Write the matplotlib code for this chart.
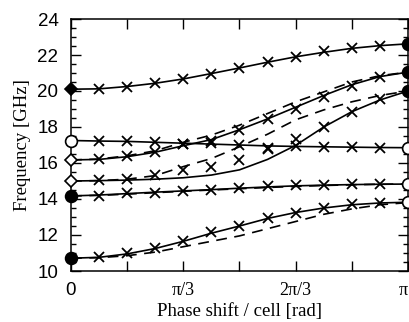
import numpy as np
import matplotlib
matplotlib.use('Agg')
import matplotlib.pyplot as plt
from matplotlib.ticker import MultipleLocator, FixedLocator

# phase samples in steps of pi/12
STEPS = list(range(13))

# simulated bands (solid)
BAND1 = [20.1, 20.12, 20.25, 20.43, 20.67, 20.97, 21.28, 21.6, 21.9, 22.15, 22.37, 22.52, 22.62]
BAND2 = [17.25, 17.22, 17.2, 17.15, 17.1, 17.05, 17.0, 16.95, 16.92, 16.9, 16.88, 16.86, 16.85]
BAND3 = [16.17, 16.2, 16.35, 16.6, 16.96, 17.3, 17.85, 18.45, 19.1, 19.75, 20.35, 20.8, 21.05]
BAND4 = [15.0, 15.02, 15.05, 15.1, 15.18, 15.33, 15.62, 16.2, 16.98, 18.0, 18.85, 19.5, 20.0]
BAND5 = [14.17, 14.22, 14.3, 14.38, 14.45, 14.52, 14.6, 14.67, 14.73, 14.77, 14.8, 14.82, 14.83]
BAND6 = [10.71, 10.76, 10.95, 11.25, 11.65, 12.1, 12.5, 12.92, 13.25, 13.5, 13.68, 13.78, 13.82]

# second model (dashed)
DASH3 = [16.17, 16.22, 16.4, 16.68, 17.15, 17.55, 18.1, 18.75, 19.4, 19.95, 20.5, 20.85, 21.05]
DASH4 = [15.0, 15.02, 15.1, 15.3, 15.8, 16.25, 16.9, 17.6, 18.4, 18.95, 19.4, 19.75, 20.0]
DASH5 = [14.17, 14.2, 14.27, 14.35, 14.43, 14.5, 14.57, 14.64, 14.7, 14.75, 14.79, 14.82, 14.83]
DASH6 = [10.71, 10.74, 10.85, 11.05, 11.35, 11.65, 11.95, 12.35, 12.75, 13.15, 13.45, 13.68, 13.8]

# measured points (crosses), steps 1..11
CROSS1 = [20.12, 20.25, 20.43, 20.67, 20.97, 21.28, 21.6, 21.9, 22.2, 22.4, 22.52]
CROSS2 = [17.22, 17.2, 17.15, 17.08, 17.1, 16.98, 16.85, 16.92, 16.9, 16.88, 16.86]
CROSS3 = [16.2, 16.38, 16.63, 17.05, 17.2, 17.83, 18.45, 19.0, 19.68, 20.3, 20.8]
CROSS4 = [15.05, 15.1, 15.33, 15.6, 15.76, 16.17, 16.8, 17.35, 18.02, 18.85, 19.55]
CROSS5 = [14.17, 14.32, 14.35, 14.46, 14.5, 14.6, 14.72, 14.78, 14.8, 14.82, 14.82]
CROSS6 = [10.76, 10.98, 11.26, 11.67, 12.15, 12.52, 12.93, 13.25, 13.5, 13.71, 13.8]

# end-point markers: (band, marker, filled)
START_MARK = [(BAND1, 'D', True), (BAND2, 'o', False), (BAND3, 'D', False),
              (BAND4, 'D', False), (BAND5, 'o', True), (BAND6, 'o', True)]
END_MARK = [(BAND1, 'o', True), (BAND2, 'o', False), (BAND3, 'o', True),
            (BAND4, 'o', True), (BAND5, 'o', False), (BAND6, 'o', False)]

x = np.array(STEPS) * np.pi / 12
xc = x[1:-1]

fig = plt.figure(figsize=(4.10, 3.22), dpi=100)
ax = fig.add_axes([71/410, 1 - 271/322, 337/410, 252/322])

for b in [BAND1, BAND2, BAND3, BAND4, BAND5, BAND6]:
    ax.plot(x, b, color='black', lw=1.2, solid_capstyle='round')
for d in [DASH3, DASH4, DASH5, DASH6]:
    ax.plot(x, d, color='black', lw=1.2, dashes=(6.5, 4.5))
for c in [CROSS1, CROSS2, CROSS3, CROSS4, CROSS5, CROSS6]:
    ax.plot(xc, c, ls='none', marker='x', ms=7, mew=1.3, color='black')

for b, m, f in START_MARK:
    ax.plot(x[0], b[0], marker=m, ms=6.5 if m == 'D' else 8.5, mew=1.2,
            mfc='black' if f else 'white', mec='black', clip_on=False, zorder=5)
for b, m, f in END_MARK:
    ax.plot(x[-1], b[-1], marker=m, ms=8.5, mew=1.2,
            mfc='black' if f else 'white', mec='black', clip_on=False, zorder=5)

ax.set_xlim(0, np.pi)
ax.set_ylim(10, 24)

ax.xaxis.set_major_locator(FixedLocator(x[::2]))
ax.set_xticklabels(['0', '', 'π/3', '', '2π/3', '', 'π'])
ax.yaxis.set_major_locator(MultipleLocator(2))
ax.yaxis.set_minor_locator(MultipleLocator(0.5))
ax.tick_params(which='both', direction='in', top=True, right=True, width=1)
ax.tick_params(which='major', length=7)
ax.tick_params(which='minor', length=3.5)
ax.tick_params(axis='x', which='major', pad=8)
ax.tick_params(axis='y', which='major', pad=9)
for lbl in ax.get_yticklabels():
    lbl.set_fontfamily('Liberation Sans')
    lbl.set_fontsize(13.5)
xl = ax.get_xticklabels()
for i, lbl in enumerate(xl):
    lbl.set_fontfamily('Liberation Sans' if i == 0 else 'Liberation Serif')
    lbl.set_fontsize(13.5 if i == 0 else 13)
xl[-1].set_horizontalalignment('right')
for s in ax.spines.values():
    s.set_linewidth(1.1)

ax.set_xlabel('Phase shift / cell [rad]', fontfamily='Liberation Serif', fontsize=13.5, labelpad=3)
ax.set_ylabel('Frequency [GHz]', fontfamily='Liberation Serif', fontsize=13.5, labelpad=5)

fig.savefig('out.png', dpi=100)
